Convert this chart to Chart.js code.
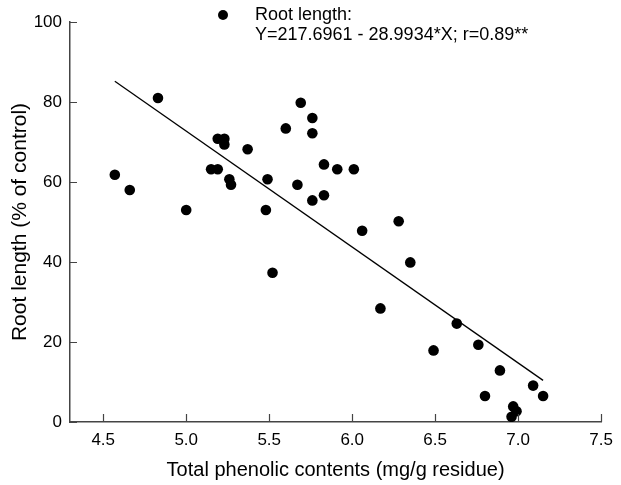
<!DOCTYPE html>
<html lang="en">
<head>
  <meta charset="UTF-8">
  <title>Root length vs total phenolic contents</title>
  <script src="https://cdn.jsdelivr.net/npm/chart.js"></script>
  <style>
    body {
      background-color: white;
      margin: 0;
      padding: 0;
    }
    canvas {
      display: block;
    }
  </style>
</head>
<body>

  <canvas id="rootChart" width="621" height="485"></canvas>

  <script>
    const phenolic = [4.57, 4.66, 4.83, 5.00, 5.19, 5.23, 5.23, 5.37, 5.15, 5.19,
                      5.26, 5.27, 5.49, 5.48, 5.60, 5.69, 5.76, 5.76, 5.83, 5.91,
                      6.01, 5.67, 5.83, 5.76, 6.28, 6.06, 6.35, 6.17, 6.63, 6.49,
                      6.76, 6.89, 7.09, 7.15, 6.80, 6.97, 6.99, 6.96, 5.52];
    const rootLength = [61.8, 58.0, 81.0, 53.0, 70.8, 70.8, 69.4, 68.2, 63.2, 63.2,
                        60.7, 59.3, 60.7, 53.0, 73.4, 79.8, 76.0, 72.2, 64.4, 63.2,
                        63.2, 59.3, 56.7, 55.4, 50.2, 47.8, 39.9, 28.4, 24.6, 17.9,
                        19.3, 12.9, 9.1, 6.5, 6.5, 3.9, 2.7, 1.3, 37.3];

    // Regression line end points
    const fitX = [4.57, 7.15];
    const fitY = [85.2, 10.4];

    const xTicks = [4.5, 5.0, 5.5, 6.0, 6.5, 7.0, 7.5];
    const yTicks = [0, 20, 40, 60, 80, 100];

    const legendLines = ['Root length:', 'Y=217.6961 - 28.9934*X; r=0.89**'];

    const fontName = '"Liberation Sans", Arial, sans-serif';

    // ticks pointing into the plot
    const insideTicks = {
      id: 'insideTicks',
      afterDatasetsDraw(chart) {
        const c = chart.ctx;
        const xs = chart.scales.x, ys = chart.scales.y;
        c.save();
        c.strokeStyle = '#444';
        c.lineWidth = 1.2;
        c.beginPath();
        xTicks.forEach(v => {
          const px = Math.round(xs.getPixelForValue(v)) + 0.5;
          c.moveTo(px, ys.bottom);
          c.lineTo(px, ys.bottom - 8);
        });
        yTicks.forEach(v => {
          const py = Math.round(ys.getPixelForValue(v)) + 0.5;
          c.moveTo(xs.left, py);
          c.lineTo(xs.left + 7, py);
        });
        c.stroke();
        c.restore();
      }
    };

    // legend drawn at the top
    const topLegend = {
      id: 'topLegend',
      afterDraw(chart) {
        const c = chart.ctx;
        c.save();
        c.fillStyle = '#000';
        c.beginPath();
        c.arc(223, 15, 5, 0, Math.PI * 2);
        c.fill();
        c.font = '18px ' + fontName;
        c.textBaseline = 'alphabetic';
        c.textAlign = 'left';
        c.fillText(legendLines[0], 255, 20);
        c.fillText(legendLines[1], 255, 40);
        c.restore();
      }
    };

    const puntos = phenolic.map((x, i) => ({ x: x, y: rootLength[i] }));
    const recta = fitX.map((x, i) => ({ x: x, y: fitY[i] }));

    const ctx = document.getElementById('rootChart').getContext('2d');
    const chart = new Chart(ctx, {
      type: 'scatter',
      data: {
        datasets: [{
          label: 'Root length',
          data: puntos,
          backgroundColor: '#000',
          borderColor: '#000',
          pointRadius: 5.3,
          borderWidth: 0
        }, {
          type: 'line',
          label: 'fit',
          data: recta,
          borderColor: '#000',
          borderWidth: 1.3,
          pointRadius: 0,
          fill: false
        }]
      },
      options: {
        responsive: false,
        animation: false,
        layout: { padding: { top: 22, right: 16, left: 0, bottom: 0 } },
        plugins: {
          legend: { display: false },
          tooltip: { enabled: false }
        },
        scales: {
          x: {
            type: 'linear',
            min: 4.3,
            max: 7.5,
            afterBuildTicks: s => { s.ticks = xTicks.map(v => ({ value: v })); },
            afterFit: s => { s.height = 63; },
            grid: { display: false, drawTicks: false },
            border: { display: true, color: '#444', width: 1.5 },
            ticks: {
              color: '#000',
              padding: 8,
              maxRotation: 0,
              font: { family: fontName, size: 17 },
              callback: v => Number(v).toFixed(1)
            },
            title: {
              display: true,
              text: 'Total phenolic contents (mg/g residue)',
              color: '#000',
              font: { family: fontName, size: 20 },
              padding: { top: 0, bottom: 3 }
            }
          },
          y: {
            min: 0,
            max: 100,
            afterBuildTicks: s => { s.ticks = yTicks.map(v => ({ value: v })); },
            afterFit: s => { s.width = 70; },
            grid: { display: false, drawTicks: false },
            border: { display: true, color: '#444', width: 1.5 },
            ticks: {
              color: '#000',
              padding: 8,
              font: { family: fontName, size: 17 }
            },
            title: {
              display: true,
              text: 'Root length (% of control)',
              color: '#000',
              font: { family: fontName, size: 21 },
              padding: { top: 8, bottom: 0 }
            }
          }
        }
      },
      plugins: [insideTicks, topLegend]
    });
  </script>

</body>
</html>
